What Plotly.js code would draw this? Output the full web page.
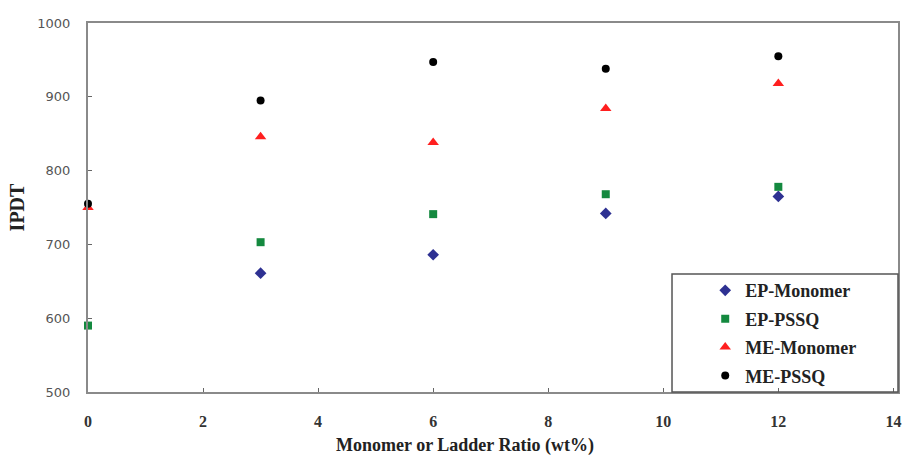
<!DOCTYPE html>
<html>
<head>
<meta charset="utf-8">
<script src="https://cdn.plot.ly/plotly-3.0.1.min.js"></script>
<style>html,body{margin:0;padding:0;background:#fff;}#chart{width:905px;height:459px;}</style>
</head>
<body>
<div id="chart"></div>
<script>
const ratio = [0, 3, 6, 9, 12];
const epMonomer = [null, 661, 686, 742, 765];
const epPSSQ = [590, 703, 741, 768, 778];
const meMonomer = [750, 846, 838, 884, 918];
const mePSSQ = [755, 895, 947, 938, 955];
const seriesNames = ['EP-Monomer', 'EP-PSSQ', 'ME-Monomer', 'ME-PSSQ'];
const xTicks = [0, 2, 4, 6, 8, 10, 12, 14];
const yTicks = [500, 600, 700, 800, 900, 1000];

const styles = [
  {symbol: 'diamond', color: '#2e3192', size: 9},
  {symbol: 'square', color: '#14893f', size: 8},
  {symbol: 'triangle-up', color: '#ff1f1f', size: 10},
  {symbol: 'circle', color: '#000000', size: 8}
];
const values = [epMonomer, epPSSQ, meMonomer, mePSSQ];
const traces = values.map((v, i) => ({
  type: 'scatter', mode: 'markers', x: ratio, y: v, name: seriesNames[i],
  legendgroup: 'g' + i, cliponaxis: false,
  marker: {symbol: styles[i].symbol, color: styles[i].color, size: styles[i].size}
}));

const layout = {
  width: 905, height: 459,
  margin: {l: 88, r: 7, t: 23, b: 67},
  paper_bgcolor: '#fff', plot_bgcolor: '#fff',
  showlegend: true,
  legend: {
    x: 0.762, xanchor: 'left', y: 0.325, yanchor: 'top',
    bgcolor: 'rgba(0,0,0,0)', borderwidth: 0,
    traceorder: 'grouped', tracegroupgap: 2,
    font: {family: 'Liberation Serif, serif', size: 18, color: '#222', weight: 'bold'}
  },
  xaxis: {
    range: [0, 14.08], tickvals: xTicks, ticktext: xTicks.map(String),
    showgrid: false, zeroline: false,
    showline: true, mirror: true, linecolor: '#8a8a8a', linewidth: 2,
    ticks: 'inside', ticklen: 4, tickcolor: '#666', tickwidth: 1,
    ticklabelstandoff: 14,
    tickfont: {family: 'Liberation Serif, serif', size: 16, color: '#333', weight: 'bold'}
  },
  yaxis: {
    range: [500, 1000], tickvals: yTicks, ticktext: yTicks.map(String),
    showgrid: false, zeroline: false,
    showline: true, mirror: true, linecolor: '#8a8a8a', linewidth: 2,
    ticks: 'inside', ticklen: 4, tickcolor: '#666', tickwidth: 1,
    ticklabelstandoff: 13,
    tickfont: {family: 'DejaVu Sans, sans-serif', size: 13, color: '#555'},
    title: {text: 'IPDT', standoff: 7,
      font: {family: 'Liberation Serif, serif', size: 20, color: '#222', weight: 'bold'}}
  },
  shapes: [{
    type: 'rect', xref: 'paper', yref: 'paper',
    x0: 0.721, x1: 1, y0: 0, y1: 0.32,
    line: {color: '#555', width: 1.5}, fillcolor: 'rgba(0,0,0,0)', layer: 'above'
  }],
  annotations: [{
    text: 'Monomer or Ladder Ratio (wt%)', xref: 'paper', yref: 'paper',
    x: 0.465, xanchor: 'center', y: -0.179, yanchor: 'bottom', showarrow: false,
    font: {family: 'Liberation Serif, serif', size: 18, color: '#222', weight: 'bold'}
  }]
};

Plotly.newPlot('chart', traces, layout, {displayModeBar: false, staticPlot: true});
</script>
</body>
</html>
